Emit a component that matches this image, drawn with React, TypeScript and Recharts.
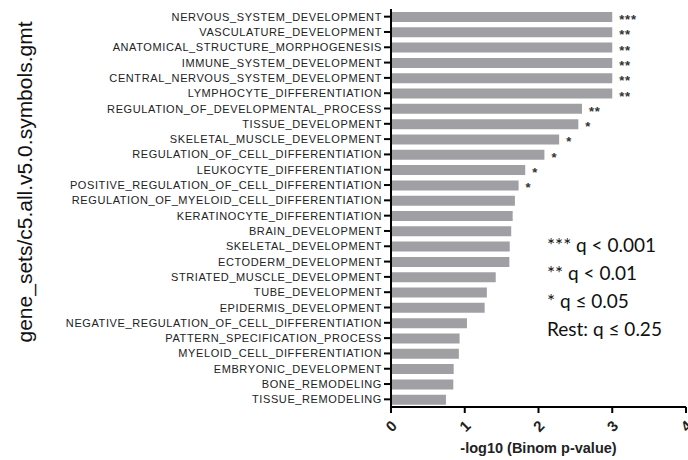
import React from 'react';
import { BarChart, Bar, XAxis, YAxis, LabelList } from 'recharts';

const categories = [
  'NERVOUS_SYSTEM_DEVELOPMENT',
  'VASCULATURE_DEVELOPMENT',
  'ANATOMICAL_STRUCTURE_MORPHOGENESIS',
  'IMMUNE_SYSTEM_DEVELOPMENT',
  'CENTRAL_NERVOUS_SYSTEM_DEVELOPMENT',
  'LYMPHOCYTE_DIFFERENTIATION',
  'REGULATION_OF_DEVELOPMENTAL_PROCESS',
  'TISSUE_DEVELOPMENT',
  'SKELETAL_MUSCLE_DEVELOPMENT',
  'REGULATION_OF_CELL_DIFFERENTIATION',
  'LEUKOCYTE_DIFFERENTIATION',
  'POSITIVE_REGULATION_OF_CELL_DIFFERENTIATION',
  'REGULATION_OF_MYELOID_CELL_DIFFERENTIATION',
  'KERATINOCYTE_DIFFERENTIATION',
  'BRAIN_DEVELOPMENT',
  'SKELETAL_DEVELOPMENT',
  'ECTODERM_DEVELOPMENT',
  'STRIATED_MUSCLE_DEVELOPMENT',
  'TUBE_DEVELOPMENT',
  'EPIDERMIS_DEVELOPMENT',
  'NEGATIVE_REGULATION_OF_CELL_DIFFERENTIATION',
  'PATTERN_SPECIFICATION_PROCESS',
  'MYELOID_CELL_DIFFERENTIATION',
  'EMBRYONIC_DEVELOPMENT',
  'BONE_REMODELING',
  'TISSUE_REMODELING',
];

const values = [
  3.0, 3.0, 3.0, 3.0, 3.0, 3.0, 2.59, 2.54, 2.28, 2.08, 1.82, 1.73, 1.68,
  1.65, 1.63, 1.61, 1.605, 1.42, 1.3, 1.27, 1.03, 0.93, 0.92, 0.85, 0.845, 0.745,
];

const significance = [
  '***', '**', '**', '**', '**', '**', '**', '*', '*', '*', '*', '*', '',
  '', '', '', '', '', '', '', '', '', '', '', '', '',
];

const xTicks = [0, 1, 2, 3, 4];
const xTitle = '-log10 (Binom p-value)';
const yTitle = 'gene_sets/c5.all.v5.0.symbols.gmt';
const legendLines = ['*** q < 0.001', '** q < 0.01', '* q \u2264 0.05', 'Rest: q \u2264 0.25'];

const data = categories.map((name, i) => ({ name, value: values[i], sig: significance[i] }));

const ARIAL = '"Liberation Sans", Arial, sans-serif';

const YTick = (props: any) => {
  const { x, y, payload } = props;
  return (
    <text
      x={x}
      y={y}
      textAnchor="end"
      dominantBaseline="central"
      fontFamily={ARIAL}
      fontSize={11}
      fill="#222"
      style={{ letterSpacing: '0.6px' }}
    >
      {payload.value}
    </text>
  );
};

const XTick = (props: any) => {
  const { x, y, payload } = props;
  const cy = y + 11;
  return (
    <text
      x={x}
      y={cy}
      textAnchor="middle"
      dominantBaseline="central"
      fontFamily={ARIAL}
      fontSize={15}
      fontWeight="bold"
      fill="#222"
      transform={`rotate(-45, ${x}, ${cy})`}
    >
      {payload.value}
    </text>
  );
};

const SigLabel = (props: any) => {
  const { x, y, width, height, value } = props;
  if (!value) return null;
  return (
    <text
      x={x + width + 7}
      y={y + height / 2 + 7}
      fontFamily={ARIAL}
      fontSize={13}
      fontWeight="bold"
      fill="#333"
      style={{ letterSpacing: '0.8px' }}
    >
      {value}
    </text>
  );
};

export default function App() {
  return (
    <div style={{ position: 'absolute', left: 0, top: 0, width: 688, height: 460, background: '#fff' }}>
      <BarChart
        width={688}
        height={460}
        data={data}
        layout="vertical"
        margin={{ top: 9, right: 2, bottom: 0, left: 0 }}
      >
        <XAxis
          type="number"
          domain={[0, 4]}
          ticks={xTicks}
          interval={0}
          height={53}
          tickSize={6}
          tick={<XTick />}
          axisLine={{ stroke: '#000', strokeWidth: 2 }}
          tickLine={{ stroke: '#000', strokeWidth: 2 }}
          label={{
            content: (p: any) => (
              <text
                x={p.viewBox.x + p.viewBox.width / 2}
                y={453}
                textAnchor="middle"
                fontFamily={ARIAL}
                fontSize={14.5}
                fontWeight="bold"
                fill="#222"
              >
                {xTitle}
              </text>
            ),
          }}
        />
        <YAxis
          type="category"
          dataKey="name"
          width={391}
          interval={0}
          tickSize={7}
          tickMargin={2}
          tick={<YTick />}
          axisLine={{ stroke: '#000', strokeWidth: 2 }}
          tickLine={{ stroke: '#000', strokeWidth: 2 }}
          label={{
            content: () => (
              <text
                x={24}
                y={182}
                textAnchor="middle"
                dominantBaseline="central"
                fontFamily={ARIAL}
                fontSize={21}
                fill="#111"
                transform="rotate(-90, 24, 182)"
              >
                {yTitle}
              </text>
            ),
          }}
        />
        <Bar dataKey="value" fill="#a09fa4" barSize={10} isAnimationActive={false}>
          <LabelList dataKey="sig" content={<SigLabel />} />
        </Bar>
      </BarChart>
      <svg
        width={688}
        height={460}
        style={{ position: 'absolute', left: 0, top: 0, pointerEvents: 'none' }}
      >
        {legendLines.map((line, i) => (
          <text
            key={line}
            x={547}
            y={252 + i * 28}
            fontFamily='Lato, "Open Sans", sans-serif'
            fontSize={19}
            fill="#111"
          >
            {line}
          </text>
        ))}
      </svg>
    </div>
  );
}
